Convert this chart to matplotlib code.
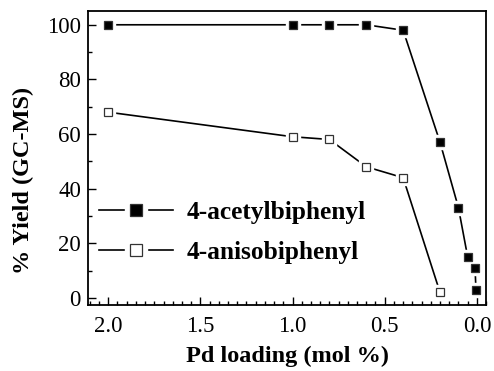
import matplotlib
matplotlib.use('Agg')
import matplotlib.pyplot as plt
from matplotlib.ticker import MultipleLocator
from matplotlib.lines import Line2D

# Pd loading (mol %) and GC-MS yields
pd_acetyl = [2.0, 1.0, 0.8, 0.6, 0.4, 0.2, 0.1, 0.05, 0.01, 0.005]
yield_acetyl = [100, 100, 100, 100, 98, 57, 33, 15, 11, 3]
pd_aniso = [2.0, 1.0, 0.8, 0.6, 0.4, 0.2]
yield_aniso = [68, 59, 58, 48, 44, 2]

plt.rcParams['font.family'] = ['Liberation Serif', 'DejaVu Serif']

fig = plt.figure(figsize=(4.94, 3.71), dpi=100)
ax = fig.add_axes([0.178, 0.178, 0.806, 0.792])

def series(x, y, face):
    ax.plot(x, y, color='black', lw=1.2, zorder=1)
    # white halo so the line stops short of each marker
    ax.plot(x, y, ls='none', marker='s', ms=9.5, mfc='white', mec='white', zorder=2)
    ax.plot(x, y, ls='none', marker='s', ms=6, mfc=face, mec='#333333', mew=0.9, zorder=3)
    # legend handle: line, gap, bigger marker
    return (Line2D([], [], color='black', lw=1.2),
            Line2D([], [], ls='none', marker='s', ms=16.5, mfc='white', mec='white'),
            Line2D([], [], ls='none', marker='s', ms=8, mfc=face, mec='#333333', mew=0.9))

h1 = series(pd_acetyl, yield_acetyl, 'black')
h2 = series(pd_aniso, yield_aniso, 'white')

ax.set_xlim(2.11, -0.05)
ax.set_ylim(-2.6, 105)
ax.xaxis.set_major_locator(MultipleLocator(0.5))
ax.xaxis.set_minor_locator(MultipleLocator(0.05))
ax.yaxis.set_major_locator(MultipleLocator(20))
ax.yaxis.set_minor_locator(MultipleLocator(10))
ax.xaxis.set_major_formatter(plt.FormatStrFormatter('%.1f'))
ax.tick_params(which='both', direction='in', top=False, right=False, labelsize=16.5, width=1)
ax.tick_params(which='major', length=6, pad=5)
ax.tick_params(axis='x', which='major', pad=8)
ax.tick_params(which='minor', length=3)
for s in ax.spines.values():
    s.set_linewidth(1.3)

ax.set_xlabel('Pd loading (mol %)', fontsize=17.5, fontweight='bold', labelpad=6)
ax.set_ylabel('% Yield (GC-MS)', fontsize=17.5, fontweight='bold')
ax.yaxis.set_label_coords(-0.136, 0.425)

ax.legend(handles=[h1, h2], labels=['4-acetylbiphenyl', '4-anisobiphenyl'],
          loc='center left', bbox_to_anchor=(0.028, 0.247),
          frameon=False, handlelength=2.9, labelspacing=0.65, handletextpad=0.55,
          borderpad=0, borderaxespad=0, numpoints=1,
          prop={'weight': 'bold', 'size': 18.3})

fig.savefig('out.png', dpi=100)
